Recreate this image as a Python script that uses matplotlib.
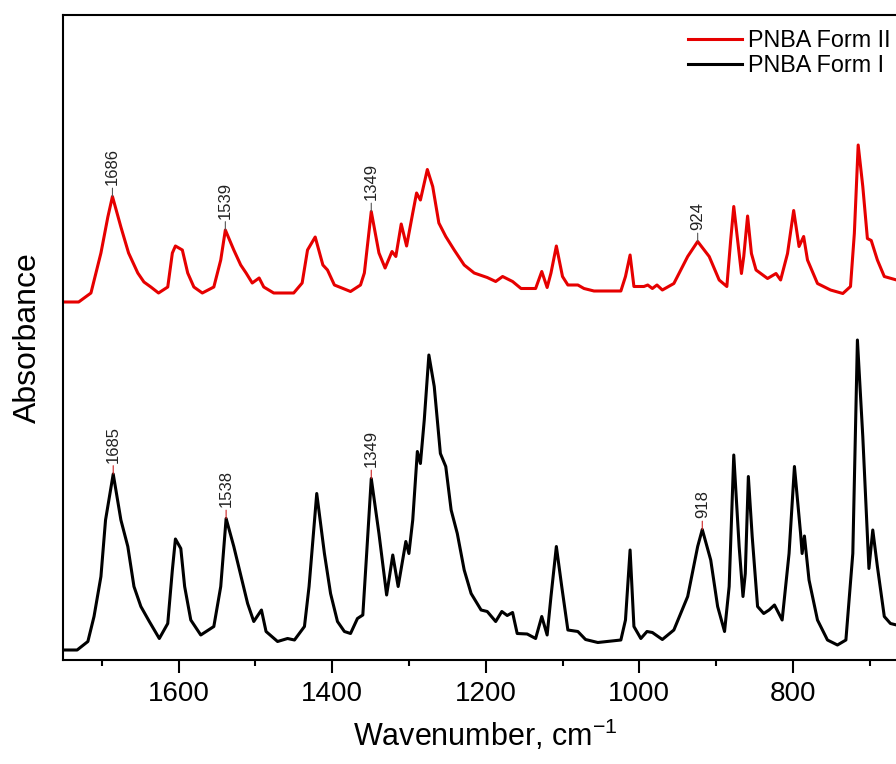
import matplotlib
matplotlib.use('Agg')
import matplotlib.pyplot as plt
from matplotlib import font_manager
from matplotlib.ticker import MultipleLocator

# FTIR spectra (wavenumber in cm-1, absorbance in a.u., stacked)
red_wn = [1749, 1730, 1714, 1701, 1692, 1686, 1675, 1665, 1653, 1645, 1636, 1626, 1614, 1608,
          1604, 1595, 1588, 1580, 1569, 1554, 1545, 1539, 1528, 1519, 1512, 1504, 1495, 1489,
          1476, 1458, 1450, 1439, 1432, 1422, 1412, 1406, 1397, 1376, 1363, 1358, 1349, 1339,
          1331, 1322, 1317, 1310, 1303, 1295, 1290, 1285, 1276, 1269, 1261, 1252, 1241, 1228,
          1215, 1198, 1187, 1178, 1165, 1154, 1135, 1127, 1120, 1115, 1108, 1100, 1093, 1080,
          1072, 1059, 1024, 1018, 1012, 1007, 994, 989, 983, 977, 970, 955, 937, 924, 909, 896,
          886, 881, 877, 872, 867, 864, 859, 854, 848, 833, 822, 816, 807, 799, 792, 786, 781,
          768, 751, 735, 725, 720, 715, 709, 703, 698, 690, 681, 665]
red_abs = [.716, .716, .734, .814, .886, .927, .866, .814, .774, .756, .746, .734, .746, .814,
           .828, .820, .774, .746, .734, .746, .800, .860, .820, .790, .774, .754, .764, .746,
           .734, .734, .734, .754, .820, .846, .790, .780, .750, .737, .750, .774, .897, .814,
           .784, .817, .807, .872, .828, .894, .934, .920, .981, .947, .874, .847, .820, .790,
           .774, .765, .757, .767, .757, .743, .743, .777, .745, .774, .828, .767, .750, .750,
           .743, .738, .738, .767, .810, .747, .747, .750, .743, .750, .740, .753, .807, .837,
           .807, .760, .747, .840, .907, .840, .773, .807, .888, .813, .780, .763, .773, .760,
           .813, .899, .827, .847, .800, .753, .740, .733, .747, .853, 1.030, .947, .843, .839,
           .800, .767, .760]

black_wn = [1749, 1732, 1718, 1710, 1701, 1695, 1685, 1675, 1666, 1658, 1649, 1638, 1625, 1614,
            1608, 1604, 1597, 1592, 1584, 1571, 1554, 1545, 1538, 1528, 1519, 1510, 1502, 1492,
            1486, 1471, 1458, 1449, 1436, 1430, 1420, 1410, 1402, 1393, 1384, 1376, 1367, 1360,
            1355, 1349, 1339, 1329, 1321, 1314, 1304, 1300, 1295, 1289, 1285, 1280, 1274, 1267,
            1259, 1252, 1245, 1237, 1228, 1219, 1206, 1198, 1187, 1179, 1172, 1165, 1159, 1146,
            1135, 1127, 1120, 1115, 1108, 1101, 1093, 1080, 1070, 1054, 1024, 1018, 1012, 1007,
            998, 990, 983, 970, 955, 937, 924, 918, 907, 898, 889, 883, 877, 870, 865, 862, 858,
            853, 846, 838, 831, 824, 814, 805, 798, 790, 788, 785, 779, 768, 755, 742, 731, 722,
            716, 709, 701, 696, 690, 681, 673, 665]
black_abs = [.020, .020, .037, .087, .167, .280, .372, .280, .227, .147, .107, .077, .043, .073,
             .180, .242, .223, .147, .080, .050, .067, .147, .283, .227, .170, .113, .077, .100,
             .057, .037, .043, .040, .067, .147, .333, .213, .133, .077, .057, .053, .083, .090,
             .213, .363, .253, .130, .210, .147, .237, .213, .280, .417, .393, .480, .610, .547,
             .413, .387, .300, .253, .180, .133, .100, .097, .077, .097, .089, .095, .053, .052,
             .043, .087, .050, .127, .227, .147, .060, .057, .041, .035, .040, .080, .220, .067,
             .043, .057, .055, .041, .060, .127, .227, .261, .200, .107, .057, .147, .410, .227,
             .127, .173, .367, .247, .107, .093, .100, .110, .080, .213, .387, .253, .213, .248,
             .160, .080, .040, .030, .040, .213, .640, .447, .183, .260, .187, .087, .073, .070]

red_peaks = [1686, 1539, 1349, 924]
black_peaks = [1685, 1538, 1349, 918]

plt.rcParams['font.family'] = ['Liberation Sans', 'DejaVu Sans']
plt.rcParams['mathtext.default'] = 'regular'

narrow = 'Liberation Sans'
try:
    font_manager.findfont('Liberation Sans Narrow', fallback_to_default=False)
    narrow = 'Liberation Sans Narrow'
except ValueError:
    pass

fig = plt.figure(figsize=(8.96, 7.64), dpi=100)
ax = fig.add_axes([63.3 / 896, 104 / 764, 844.8 / 896, 645 / 764])

l_red, = ax.plot(red_wn, red_abs, color='#e60000', lw=2.2, solid_joinstyle='round',
                 label='PNBA Form II')
l_blk, = ax.plot(black_wn, black_abs, color='black', lw=2.2, solid_joinstyle='round',
                 label='PNBA Form I')


def mark(wn_list, abs_list, peaks, tick_color):
    for p in peaks:
        y = abs_list[wn_list.index(p)]
        ax.annotate(str(p), xy=(p, y), xytext=(0, 8), textcoords='offset points',
                    rotation=90, ha='center', va='bottom', fontsize=12, color='#222222',
                    arrowprops=dict(arrowstyle='-', color=tick_color, lw=0.8,
                                    shrinkA=0, shrinkB=0))


mark(red_wn, red_abs, red_peaks, '#555555')
mark(black_wn, black_abs, black_peaks, '#cc2222')

ax.set_xlim(1750, 650)
ax.set_ylim(0, 1.29)
ax.xaxis.set_major_locator(MultipleLocator(200))
ax.xaxis.set_minor_locator(MultipleLocator(100))
ax.set_yticks([])
ax.tick_params(axis='x', which='major', direction='out', length=9, width=1.5, pad=6,
               labelsize=20)
ax.tick_params(axis='x', which='minor', direction='out', length=4.5, width=1.5)
for lab in ax.get_xticklabels():
    lab.set_family(narrow)
for s in ax.spines.values():
    s.set_linewidth(1.5)

ax.set_xlabel(r'Wavenumber, cm$^{-1}$', fontsize=22, family=narrow, labelpad=8)
ax.set_ylabel('Absorbance', fontsize=23, labelpad=15)

fig.legend([l_red, l_blk], ['PNBA Form II', 'PNBA Form I'], loc='upper left',
           bbox_to_anchor=(688 / 896, 1 - 29 / 764), frameon=False, fontsize=16.8,
           handlelength=2.3, handletextpad=0.26, labelspacing=0.1, borderpad=0,
           borderaxespad=0)

fig.savefig('out.png', dpi=100)
